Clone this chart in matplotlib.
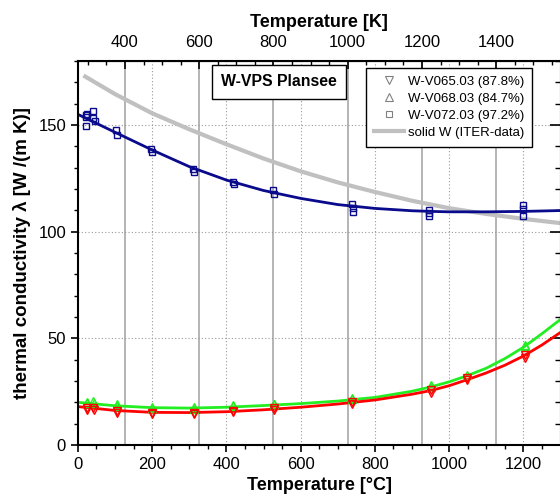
import numpy as np
import matplotlib.pyplot as plt
from matplotlib.lines import Line2D
from matplotlib.ticker import MultipleLocator

plt.rcParams['font.family'] = ['Liberation Sans', 'DejaVu Sans']

# medidas (temperatura em °C, condutividade em W/(m K))
t_v065 = [24, 25, 42, 44, 105, 105, 201, 201, 312, 312, 417, 417, 527, 527,
          739, 739, 950, 950, 1049, 1049, 1204, 1204]
k_v065 = [17.2, 16.5, 17.2, 16.3, 15.8, 15.0, 14.8, 14.3, 15.0, 14.4, 16.0, 15.4,
          17.2, 16.6, 20.0, 19.2, 25.6, 24.6, 31.5, 30.5, 42.0, 40.6]

t_v068 = [24, 25, 42, 44, 105, 105, 201, 201, 312, 312, 417, 417, 527, 527,
          739, 739, 950, 950, 1049, 1204, 1204]
k_v068 = [20.2, 19.6, 20.4, 19.6, 19.0, 18.5, 17.8, 17.3, 17.6, 17.1, 18.6, 18.2,
          19.4, 19.0, 22.0, 21.4, 28.2, 27.4, 32.6, 47.0, 46.2]

t_v072 = [22, 22, 22, 25, 40, 42, 45, 102, 105, 198, 200, 310, 312, 418, 420,
          525, 527, 738, 740, 740, 945, 947, 947, 1200, 1200, 1200]
k_v072 = [154.5, 153.8, 149.3, 155.0, 156.5, 153.5, 152.0, 147.6, 145.5, 138.6,
          137.3, 129.2, 127.9, 123.2, 122.4, 119.5, 117.7, 112.9, 111.0, 109.0,
          110.2, 108.6, 107.5, 112.5, 110.7, 107.5]

# curvas de ajuste
t_fit = [0, 100, 200, 300, 400, 500, 600, 700, 800, 900, 950, 1000, 1050, 1100,
         1150, 1200, 1250, 1300]
fit_v065 = [18.0, 16.2, 15.3, 15.2, 15.6, 16.5, 17.7, 19.2, 21.1, 23.8, 25.5,
            27.8, 30.7, 33.8, 37.4, 41.7, 46.9, 52.8]
fit_v068 = [20.0, 18.4, 17.5, 17.3, 17.7, 18.5, 19.4, 20.6, 22.3, 25.2, 27.2,
            29.6, 32.6, 36.0, 40.5, 45.8, 52.2, 58.9]
fit_v072 = [155.0, 146.6, 138.3, 130.5, 124.2, 119.3, 115.6, 112.7, 110.9,
            109.8, 109.5, 109.3, 109.3, 109.3, 109.4, 109.5, 109.7, 109.9]

# W solido (ITER)
t_iter = [20, 100, 200, 300, 400, 500, 600, 700, 800, 900, 1000, 1100, 1200, 1300]
k_iter = [172.7, 164.5, 155.5, 148.0, 141.0, 134.3, 128.3, 123.1, 118.6, 114.5,
          111.0, 108.3, 106.0, 104.0]

labels = ['W-V065.03 (87.8%)', 'W-V068.03 (84.7%)', 'W-V072.03 (97.2%)',
          'solid W (ITER-data)']
kelvin_ticks = [400, 600, 800, 1000, 1200, 1400]

red = '#ff0000'
green = '#22ee22'
navy = '#0a0a8c'
gray = '#c0c0c0'

fig = plt.figure(figsize=(5.6, 5.0), dpi=100)
ax = fig.add_axes([0.139, 0.11, 0.862, 0.768])

# grade
for k in kelvin_ticks:
    ax.axvline(k - 273.15, color='#a8a8a8', lw=1.2, zorder=0)
for c in range(200, 1300, 200):
    ax.axvline(c, color='#999999', lw=0.8, ls=(0, (1, 2)), zorder=0)
for v in [50, 100, 150]:
    ax.axhline(v, color='#999999', lw=0.8, ls=(0, (1, 2)), zorder=0)

ax.plot(t_iter, k_iter, color=gray, lw=3, zorder=1)

ax.plot(t_fit, fit_v072, color=navy, lw=2, zorder=2)
ax.plot(t_fit, fit_v068, color=green, lw=2, zorder=2)
ax.plot(t_fit, fit_v065, color=red, lw=2, zorder=2)

ax.plot(t_v072, k_v072, ls='none', marker='s', ms=4.5, mfc='none', mec=navy, mew=1, zorder=3)
ax.plot(t_v068, k_v068, ls='none', marker='^', ms=5.5, mfc='none', mec=green, mew=1, zorder=3)
ax.plot(t_v065, k_v065, ls='none', marker='v', ms=5.5, mfc='none', mec=red, mew=1, zorder=3)

ax.set_xlim(0, 1300)
ax.set_ylim(0, 180)

ax.xaxis.set_major_locator(MultipleLocator(200))
ax.xaxis.set_minor_locator(MultipleLocator(50))
ax.yaxis.set_major_locator(MultipleLocator(50))
ax.yaxis.set_minor_locator(MultipleLocator(10))
ax.tick_params(axis='both', which='major', labelsize=12, length=5, width=1.2, direction='out')
ax.tick_params(axis='both', which='minor', length=3, width=1, direction='out')

for s in ax.spines.values():
    s.set_linewidth(1.5)

# ticks internos a direita
ax_r = ax.secondary_yaxis('right')
ax_r.yaxis.set_major_locator(MultipleLocator(50))
ax_r.yaxis.set_minor_locator(MultipleLocator(10))
ax_r.tick_params(which='major', direction='in', length=8, width=1.2, labelright=False)
ax_r.tick_params(which='minor', direction='in', length=4, width=1)

# eixo superior em Kelvin
ax_k = ax.secondary_xaxis('top', functions=(lambda c: c + 273.15, lambda k: k - 273.15))
ax_k.set_xticks(kelvin_ticks)
ax_k.xaxis.set_minor_locator(MultipleLocator(50))
ax_k.tick_params(which='major', direction='in', length=6, width=1.2, labelsize=12, pad=8)
ax_k.tick_params(which='minor', direction='in', length=3, width=1)
ax_k.set_xlabel('Temperature [K]', fontsize=13, fontweight='bold', labelpad=6)

ax.set_xlabel('Temperature [°C]', fontsize=13, fontweight='bold', labelpad=4)
ax.set_ylabel('thermal conductivity λ [W /(m K)]', fontsize=13.5, fontweight='bold', labelpad=5)

ax.text(542, 170.2, 'W-VPS Plansee', fontsize=11.4, fontweight='bold', ha='center', va='center',
        bbox=dict(boxstyle='square,pad=0.6', fc='white', ec='black', lw=1))

handles = [
    Line2D([], [], ls='none', marker='v', ms=5.5, mfc='none', mec='#808080', mew=0.8),
    Line2D([], [], ls='none', marker='^', ms=5.5, mfc='none', mec='#808080', mew=0.8),
    Line2D([], [], ls='none', marker='s', ms=4.5, mfc='none', mec='#808080', mew=0.8),
    Line2D([], [], color=gray, lw=3),
]
leg = ax.legend(handles, labels, loc='upper left', bbox_to_anchor=(0.597, 0.982),
                fontsize=9.5, frameon=True, fancybox=False, edgecolor='black',
                framealpha=1, borderpad=0.6, labelspacing=0.35, handlelength=2.3,
                handletextpad=0.3, borderaxespad=0)
leg.get_frame().set_linewidth(1)

fig.savefig('out.png', dpi=100)
